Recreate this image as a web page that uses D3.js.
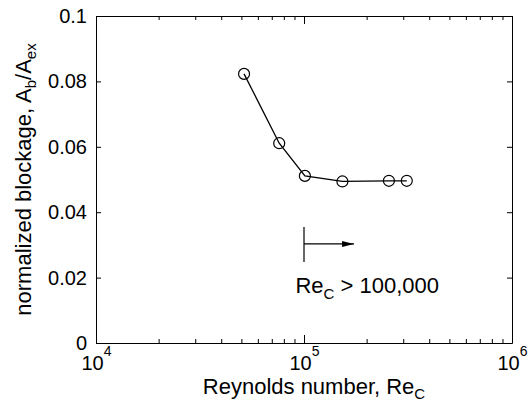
<!DOCTYPE html>
<html>
<head>
<meta charset="utf-8">
<script src="https://cdn.jsdelivr.net/npm/d3@7"></script>
<style>
  html, body { margin: 0; padding: 0; background: #fff; overflow: hidden; }
  svg { display: block; font-family: "Liberation Sans", Arial, sans-serif; }
  .axis path, .axis line { stroke: #000; stroke-width: 1; }
  .axis text { fill: #000; font-size: 20px; font-family: "Liberation Sans", Arial, sans-serif; }
  .label { fill: #000; font-size: 22px; }
</style>
</head>
<body>
<div id="chart"></div>
<script>
// data
const reynolds = [51500, 76000, 101000, 153000, 256000, 312000];
const blockage = [0.0823, 0.0611, 0.0511, 0.0494, 0.0496, 0.0496];

const xMajor = [1e4, 1e5, 1e6];
const xMajorExp = ["4", "5", "6"];
const xMinor = [2e4, 3e4, 4e4, 5e4, 6e4, 7e4, 8e4, 9e4, 2e5, 3e5, 4e5, 5e5, 6e5, 7e5, 8e5, 9e5];
const yTicks = [0, 0.02, 0.04, 0.06, 0.08, 0.1];
const yTickLabels = ["0", "0.02", "0.04", "0.06", "0.08", "0.1"];

// annotation anchors (data units)
const thresholdRe = 1e5;
const thresholdSpan = [0.0248, 0.0355];
const arrowLevel = 0.0303;
const arrowEndRe = 174000;
const noteAnchor = [91000, 0.0153];

const width = 529, height = 409;
const margin = { top: 16, right: 17, bottom: 66, left: 96 };
const innerWidth = width - margin.left - margin.right;
const innerHeight = height - margin.top - margin.bottom;

const svg = d3.select("#chart")
    .append("svg")
    .attr("width", width)
    .attr("height", height);

svg.append("defs")
    .append("marker")
    .attr("id", "arrowhead")
    .attr("viewBox", "0 0 12 8")
    .attr("refX", 12)
    .attr("refY", 4)
    .attr("markerWidth", 12)
    .attr("markerHeight", 8)
    .attr("markerUnits", "userSpaceOnUse")
    .attr("orient", "auto")
    .append("path")
    .attr("d", "M0,1 L12,4 L0,7 Z")
    .attr("fill", "#000");

const innerChart = svg.append("g")
    .attr("transform", `translate(${margin.left},${margin.top})`);

const xScale = d3.scaleLog().domain([1e4, 1e6]).range([0, innerWidth]);
const yScale = d3.scaleLinear().domain([0, 0.1]).range([innerHeight, 0]);

// ticks-only axis helper: draws the ticks and drops the empty labels
const tickOnly = (g, axis, keepDomain) => {
    g.attr("class", "axis").call(axis.tickFormat(() => ""));
    g.selectAll(".tick text").remove();
    if (!keepDomain) g.select(".domain").remove();
    return g;
};

// bottom axis with superscript labels
const bottomAxis = innerChart.append("g")
    .attr("class", "axis")
    .attr("transform", `translate(0,${innerHeight})`)
    .call(d3.axisBottom(xScale).tickValues(xMajor).tickSizeInner(-8).tickSizeOuter(0).tickPadding(13).tickFormat(() => ""));

bottomAxis.selectAll(".tick text").each(function (d, i) {
    const t = d3.select(this);
    t.append("tspan").text("10");
    t.append("tspan").attr("font-size", 14).attr("dy", -14).text(xMajorExp[i]);
});

tickOnly(innerChart.append("g").attr("transform", `translate(0,${innerHeight})`),
    d3.axisBottom(xScale).tickValues(xMinor).tickSizeInner(-4).tickSizeOuter(0), false);

// top axis (ticks only)
tickOnly(innerChart.append("g"),
    d3.axisTop(xScale).tickValues(xMajor).tickSizeInner(-8).tickSizeOuter(0), true);
tickOnly(innerChart.append("g"),
    d3.axisTop(xScale).tickValues(xMinor).tickSizeInner(-4).tickSizeOuter(0), false);

// left and right axes
innerChart.append("g")
    .attr("class", "axis")
    .call(d3.axisLeft(yScale).tickValues(yTicks).tickSizeInner(-5).tickSizeOuter(0).tickPadding(9)
        .tickFormat((d, i) => yTickLabels[i]));

tickOnly(innerChart.append("g").attr("transform", `translate(${innerWidth},0)`),
    d3.axisRight(yScale).tickValues(yTicks).tickSizeInner(-5).tickSizeOuter(0), true);

// data line and circle markers
const line = d3.line()
    .x((d, i) => xScale(reynolds[i]))
    .y(d => yScale(d));

innerChart.append("path")
    .datum(blockage)
    .attr("d", line)
    .attr("fill", "none")
    .attr("stroke", "#000")
    .attr("stroke-width", 1.3);

innerChart.selectAll("circle")
    .data(blockage)
    .join("circle")
        .attr("cx", (d, i) => xScale(reynolds[i]))
        .attr("cy", d => yScale(d))
        .attr("r", 5.5)
        .attr("fill", "none")
        .attr("stroke", "#000")
        .attr("stroke-width", 1.2);

// threshold annotation
innerChart.append("line")
    .attr("x1", xScale(thresholdRe))
    .attr("x2", xScale(thresholdRe))
    .attr("y1", yScale(thresholdSpan[0]))
    .attr("y2", yScale(thresholdSpan[1]))
    .attr("stroke", "#000")
    .attr("stroke-width", 1.2);

innerChart.append("line")
    .attr("x1", xScale(thresholdRe))
    .attr("x2", xScale(arrowEndRe))
    .attr("y1", yScale(arrowLevel))
    .attr("y2", yScale(arrowLevel))
    .attr("stroke", "#000")
    .attr("stroke-width", 1.2)
    .attr("marker-end", "url(#arrowhead)");

const note = innerChart.append("text")
    .attr("class", "label")
    .attr("x", xScale(noteAnchor[0]))
    .attr("y", yScale(noteAnchor[1]));
note.append("tspan").text("Re");
note.append("tspan").attr("font-size", 15).attr("dy", 6).text("C");
note.append("tspan").attr("dy", -6).text(" > 100,000");

// axis labels
const xLabel = svg.append("text")
    .attr("class", "label")
    .attr("text-anchor", "middle")
    .attr("x", margin.left + innerWidth / 2 + 10)
    .attr("y", 394);
xLabel.append("tspan").text("Reynolds number, Re");
xLabel.append("tspan").attr("font-size", 15).attr("dy", 5).text("C");

const yLabel = svg.append("text")
    .attr("class", "label")
    .attr("text-anchor", "middle")
    .attr("transform", `translate(31,${margin.top + innerHeight / 2}) rotate(-90)`);
yLabel.append("tspan").text("normalized blockage, A");
yLabel.append("tspan").attr("font-size", 15).attr("dy", 5).text("b");
yLabel.append("tspan").attr("dy", -5).text("/A");
yLabel.append("tspan").attr("font-size", 15).attr("dy", 5).text("ex");
</script>
</body>
</html>
